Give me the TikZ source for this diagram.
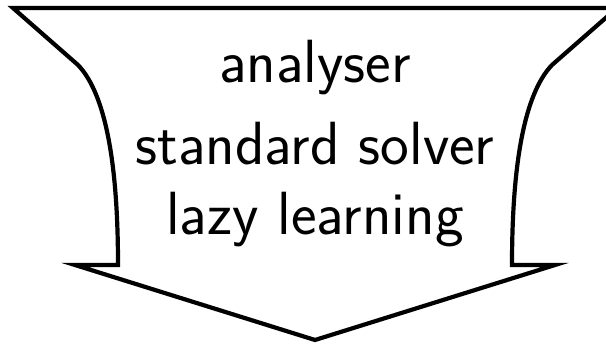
\documentclass[tikz,border=0pt]{standalone}
\usepackage{tikz}
\usetikzlibrary{positioning}

\begin{document}
\begin{tikzpicture}[
          x=1pt, y=1pt,
          outline/.style={draw, line width=4.2pt, line join=miter},
          lbl/.style={font=\sffamily\fontsize{61}{70}\selectfont, anchor=base, inner sep=0pt}
      ]
        \clip (0,0) rectangle (606,345);
        \coordinate (tl) at (13,337);
        \coordinate (tr) at (617,337);
        \coordinate (ls) at (78,280);
        \coordinate (rs) at (552,280);
        \coordinate (li) at (118,80);
        \coordinate (ri) at (512,80);
        \coordinate (lb) at (75,80);
        \coordinate (rb) at (555,80);
        \coordinate (tip) at (315,5);
        \draw[outline] (tl) -- (ls) .. controls (102,255) and (118,195) .. (li)
          -- (lb) -- (tip) -- (rb) -- (ri)
          .. controls (512,195) and (528,255) .. (rs) -- (tr) -- cycle;
        \node[lbl] (ana) at (315,262) {analyser};
        \node[lbl] (std) at (315,180) {standard solver};
        \node[lbl] (lazy) at (315,110) {lazy learning};
      \end{tikzpicture}
\end{document}
